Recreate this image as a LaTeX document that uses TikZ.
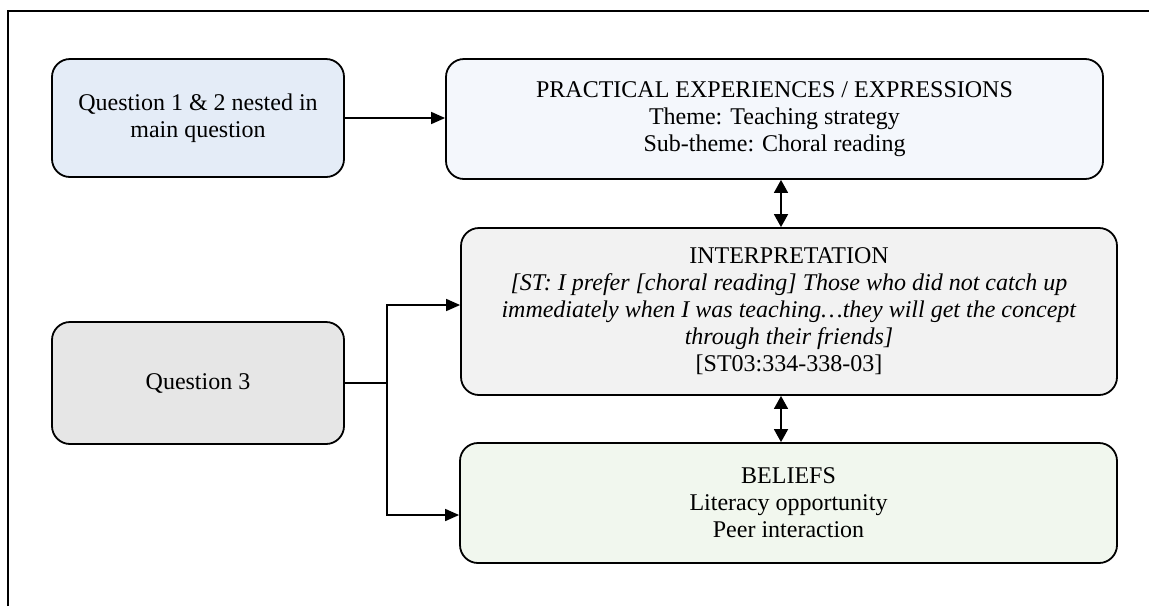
\documentclass[tikz,border=0pt]{standalone}
\usepackage{fontspec}
\setmainfont{Liberation Serif}
\usetikzlibrary{arrows.meta}

\definecolor{qblue}{HTML}{E4ECF7}
\definecolor{pblue}{HTML}{F4F7FC}
\definecolor{igray}{HTML}{F2F2F2}
\definecolor{bgreen}{HTML}{F1F7EE}
\definecolor{qgray}{HTML}{E6E6E6}

\begin{document}
\begin{tikzpicture}[x=0.5pt, y=-0.5pt,
		every node/.style={rectangle, rounded corners=9pt, draw, line width=0.9pt, align=center, inner sep=0pt, font=\fontsize{12}{13.5}\selectfont},
		arr/.style={line width=0.8pt, -{Triangle[length=7pt, width=6pt]}},
		dblarr/.style={line width=0.8pt, {Triangle[length=6.5pt, width=7pt]}-{Triangle[length=6.5pt, width=7pt]}}]
		% \draw[help lines] (0,0) grid[step=50] (1149,606);
		\useasboundingbox (0,0) rectangle (1149,606);
		\draw[line width=1pt] (8,606) -- (8,11) -- (1149,11);

		\node[fill=qblue, minimum width=146pt, minimum height=59pt] (q12) at (198,118) {Question 1 \& 2 nested in\\main question};
		\node[fill=qgray, minimum width=146pt, minimum height=61pt] (q3) at (198,383) {Question 3};

		\node[fill=pblue, minimum width=328.5pt, minimum height=60pt] (prac) at (774.5,119) {PRACTICAL EXPERIENCES / EXPRESSIONS\\Theme: Teaching strategy\\Sub-theme: Choral reading};
		\node[fill=igray, minimum width=328pt, minimum height=83.5pt] (interp) at (789,311.5) {INTERPRETATION\\\textit{[ST: I prefer [choral reading] Those who did not catch up}\\\textit{immediately when I was teaching…they will get the concept}\\\textit{through their friends]}\\{}[ST03:334-338-03]};
		\node[fill=bgreen, minimum width=328.5pt, minimum height=60pt] (belief) at (788.5,503) {BELIEFS\\Literacy opportunity\\Peer interaction};

		\coordinate (fork) at (387,383);
		\coordinate (mid) at (781,0);

		\draw[arr] (q12.east) -- (prac.west |- q12.east);
		\draw[line width=0.8pt] (q3.east) -- (fork);
		\draw[arr] (fork) |- ([yshift=3.25pt]interp.west);
		\draw[arr] (fork) |- ([yshift=-6pt]belief.west);
		\draw[dblarr] (prac.south -| mid) -- (interp.north -| mid);
		\draw[dblarr] (interp.south -| mid) -- (belief.north -| mid);
	\end{tikzpicture}
\end{document}
